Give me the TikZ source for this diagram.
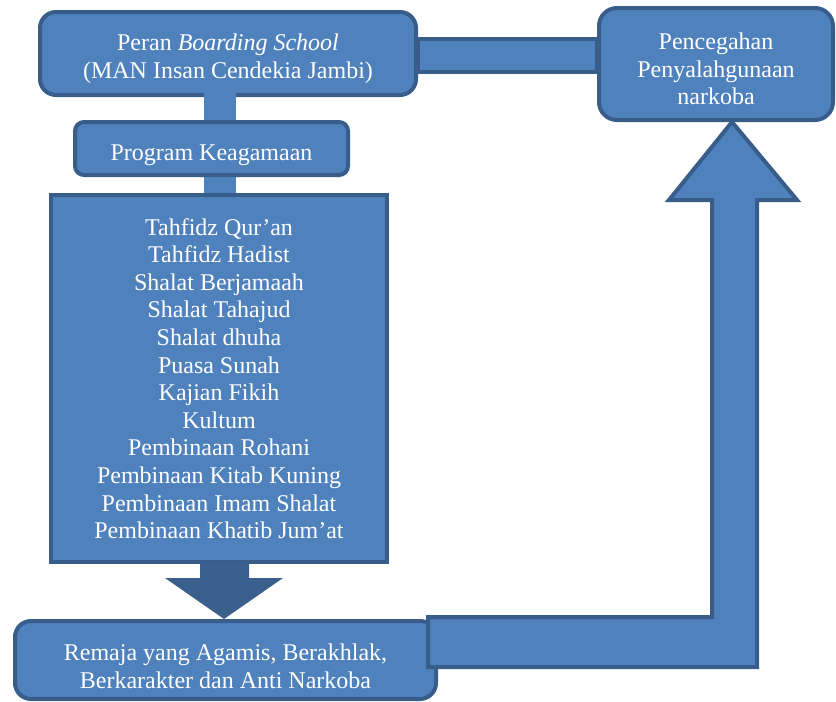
\documentclass[tikz,border=0pt]{standalone}
\usepackage{fontspec}
\setmainfont{Liberation Serif}
\usetikzlibrary{backgrounds}
\definecolor{boxfill}{HTML}{4F81BD}
\definecolor{boxline}{HTML}{385D8A}
\definecolor{arrowdark}{HTML}{3B5F8C}
\tikzset{
  box/.style={draw=boxline, fill=boxfill, line width=4pt, text=white, align=center,
    inner sep=0pt, font=\fontsize{24}{27.6}\selectfont},
  barconn/.style={draw=none, fill=boxfill},
  bigarrow/.style={draw=boxline, fill=boxfill, line width=4pt, line join=miter},
}
\begin{document}
\begin{tikzpicture}[x=1pt,y=-1pt]
\useasboundingbox (0,0) rectangle (836,702);
% nodes
\node[box, rounded corners=16pt, minimum width=376pt, minimum height=83pt] (top) at (228,53.5)
  {\\[0pt]Peran \textit{Boarding School}\\(MAN Insan Cendekia Jambi)};
\node[box, rounded corners=9pt, minimum width=273pt, minimum height=53pt] (prog) at (211.5,148.5)
  {\\[2pt]Program Keagamaan};
\node[box, minimum width=336pt, minimum height=367pt] (list) at (219,378.5)
  {Tahfidz Qur’an\\Tahfidz Hadist\\Shalat Berjamaah\\Shalat Tahajud\\Shalat dhuha\\Puasa Sunah\\Kajian Fikih\\Kultum\\Pembinaan Rohani\\Pembinaan Kitab Kuning\\Pembinaan Imam Shalat\\Pembinaan Khatib Jum’at};
\node[box, rounded corners=18pt, minimum width=234pt, minimum height=112pt] (right) at (716,64)
  {\\[-1pt]Pencegahan\\Penyalahgunaan\\narkoba};
\node[box, rounded corners=16pt, minimum width=421pt, minimum height=78pt] (bottom) at (225.5,660)
  {\\[2pt]Remaja yang Agamis, Berakhlak,\\Berkarakter dan Anti Narkoba};
% helper coordinates
\coordinate (bx1) at (204,0);
\coordinate (bx2) at (236,0);
\coordinate (hy1) at (0,39);
\coordinate (hy2) at (0,72);
% connector top -> right (behind boxes)
\begin{scope}[on background layer]
  \draw[bigarrow] (top.east |- hy1) rectangle (right.west |- hy2);
\end{scope}
% vertical bars
\fill[boxfill] ([yshift=9pt]top.south -| bx1) rectangle (prog.north -| bx2);
\fill[boxfill] (prog.south -| bx1) rectangle (list.north -| bx2);
% dark down arrow from list to bottom
\coordinate (dshaftL) at (200,0);
\coordinate (dshaftR) at (249,0);
\coordinate (dheadL) at (165,578);
\coordinate (dheadR) at (283,578);
\coordinate (dtip) at (224,0);
\fill[arrowdark] ([yshift=1pt]list.south -| dshaftL) -- (dshaftL |- dheadL) -- (dheadL) -- (dtip |- bottom.north)
  -- (dheadR) -- (dshaftR |- dheadR) -- ([yshift=1pt]list.south -| dshaftR) -- cycle;
% bent up arrow from bottom to right
\coordinate (ua1) at (428,617);
\coordinate (ua2) at (712,617);
\coordinate (ua3) at (712,200);
\coordinate (ua4) at (669,200);
\coordinate (ua6) at (797,200);
\coordinate (ua7) at (757,200);
\coordinate (ua8) at (757,667);
\coordinate (ua9) at (428,667);
\coordinate (utip) at (732,0);
\draw[bigarrow] (ua1) -- (ua2) -- (ua3) -- (ua4) -- (utip |- right.south) -- (ua6) -- (ua7) -- (ua8) -- (ua9) -- cycle;
\end{tikzpicture}
\end{document}
